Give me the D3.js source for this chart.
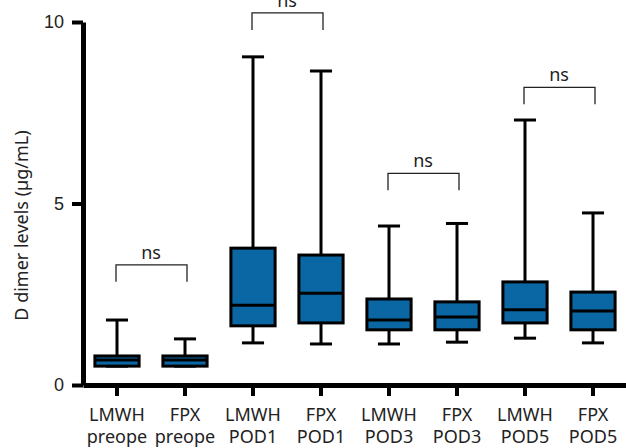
<!DOCTYPE html>
<html>
<head>
<meta charset="utf-8">
<script src="https://cdn.jsdelivr.net/npm/d3@7"></script>
<style>
  body { margin: 0; background: #fff; }
  svg { display: block; font-family: "Noto Sans", "Open Sans", sans-serif; }
</style>
</head>
<body>
<div id="chart"></div>
<script>
// categories (two-line labels)
const groups = ["LMWH|preope", "FPX|preope", "LMWH|POD1", "FPX|POD1",
                "LMWH|POD3", "FPX|POD3", "LMWH|POD5", "FPX|POD5"];
// box stats
const mins    = [0.52, 0.52, 1.16, 1.13, 1.13, 1.18, 1.29, 1.16];
const q1s     = [0.52, 0.52, 1.63, 1.71, 1.52, 1.52, 1.71, 1.52];
const medians = [0.69, 0.69, 2.20, 2.53, 1.79, 1.87, 2.07, 2.04];
const q3s     = [0.80, 0.80, 3.77, 3.58, 2.37, 2.29, 2.84, 2.56];
const maxs    = [1.79, 1.27, 9.04, 8.65, 4.38, 4.45, 7.30, 4.74];

// significance brackets: left group, right group, height
const bracketPairs  = [[0, 1], [2, 3], [4, 5], [6, 7]];
const bracketLevels = [3.31, 10.25, 5.83, 8.2];
const bracketLabels = ["ns", "ns", "ns", "ns"];

const yTicks = [0, 5, 10];

const width = 626, height = 448;
const margin = { top: 22, right: -1, bottom: 63, left: 83 };
const boxFill = "#0a67a3";

const svg = d3.select("#chart").append("svg")
    .attr("width", width)
    .attr("height", height);

const x = d3.scaleBand()
    .domain(groups)
    .range([margin.left, width - margin.right]);
const y = d3.scaleLinear()
    .domain([0, 10])
    .range([height - margin.bottom, margin.top]);

const boxW = x.bandwidth() * 0.65;
const capW = boxW / 2;

// y axis
const yAxis = svg.append("g")
    .attr("transform", `translate(${margin.left},0)`)
    .call(d3.axisLeft(y).tickValues(yTicks).tickSize(11).tickPadding(8).tickSizeOuter(0));
yAxis.select(".domain").attr("stroke-width", 5).attr("stroke", "#000");
yAxis.selectAll(".tick line").attr("stroke-width", 4).attr("stroke", "#000");
yAxis.selectAll(".tick text")
    .attr("font-size", 18)
    .attr("fill", "#222");

// x axis
const xAxis = svg.append("g")
    .attr("transform", `translate(0,${y(0)})`)
    .call(d3.axisBottom(x).tickSize(11).tickSizeOuter(0).tickFormat(""));
xAxis.select(".domain").attr("stroke-width", 5).attr("stroke", "#000");
xAxis.selectAll(".tick line").attr("stroke-width", 4).attr("stroke", "#000");

// category labels, two lines
const catLabels = svg.append("g")
    .selectAll("text")
    .data(groups)
    .join("text")
    .attr("text-anchor", "middle")
    .attr("font-size", 18)
    .attr("fill", "#222")
    .attr("transform", d => `translate(${x(d) + x.bandwidth() / 2},0)`);
catLabels.selectAll("tspan")
    .data(d => d.split("|"))
    .join("tspan")
    .attr("x", 0)
    .attr("y", (d, i) => 421 + i * 22)
    .text(d => d);

// y label
svg.append("text")
    .attr("transform", `translate(28,${(y(0) + y(10)) / 2 + 22}) rotate(-90)`)
    .attr("text-anchor", "middle")
    .attr("font-size", 18)
    .attr("fill", "#222")
    .text("D dimer levels (\u00b5g/mL)");

// boxes
const boxes = svg.append("g")
    .selectAll("g")
    .data(groups.map((g, i) => ({ g, min: mins[i], q1: q1s[i], med: medians[i], q3: q3s[i], max: maxs[i] })))
    .join("g")
    .attr("transform", d => `translate(${x(d.g) + x.bandwidth() / 2},0)`);

boxes.append("line")
    .attr("y1", d => y(d.max)).attr("y2", d => y(d.min))
    .attr("stroke", "#000").attr("stroke-width", 3);
boxes.append("line")
    .attr("x1", -capW / 2).attr("x2", capW / 2)
    .attr("y1", d => y(d.max)).attr("y2", d => y(d.max))
    .attr("stroke", "#000").attr("stroke-width", 3);
boxes.append("line")
    .attr("x1", -capW / 2).attr("x2", capW / 2)
    .attr("y1", d => y(d.min)).attr("y2", d => y(d.min))
    .attr("stroke", "#000").attr("stroke-width", 3);
boxes.append("rect")
    .attr("x", -boxW / 2)
    .attr("width", boxW)
    .attr("y", d => y(d.q3))
    .attr("height", d => y(d.q1) - y(d.q3))
    .attr("fill", boxFill)
    .attr("stroke", "#000")
    .attr("stroke-width", 3);
boxes.append("line")
    .attr("x1", -boxW / 2).attr("x2", boxW / 2)
    .attr("y1", d => y(d.med)).attr("y2", d => y(d.med))
    .attr("stroke", "#000").attr("stroke-width", 3);

// brackets
const legLen = 17;
const brackets = svg.append("g")
    .selectAll("g")
    .data(bracketPairs.map((p, i) => ({ a: groups[p[0]], b: groups[p[1]], lvl: bracketLevels[i], label: bracketLabels[i] })))
    .join("g");
brackets.append("path")
    .attr("d", d => {
        const x1 = x(d.a) + x.bandwidth() / 2 - 1;
        const x2 = x(d.b) + x.bandwidth() / 2 + 2;
        const yy = y(d.lvl);
        return `M${x1},${yy + legLen}V${yy}H${x2}V${yy + legLen}`;
    })
    .attr("fill", "none")
    .attr("stroke", "#222")
    .attr("stroke-width", 1.3);
brackets.append("text")
    .attr("x", d => (x(d.a) + x(d.b) + x.bandwidth()) / 2)
    .attr("y", d => y(d.lvl) - 6)
    .attr("text-anchor", "middle")
    .attr("font-size", 18)
    .attr("fill", "#222")
    .text(d => d.label);
</script>
</body>
</html>
